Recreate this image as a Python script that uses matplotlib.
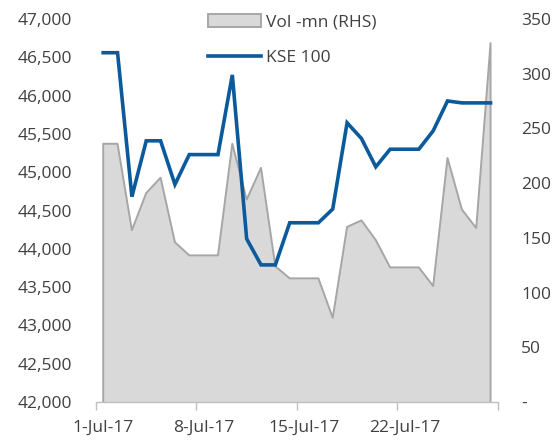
import matplotlib
matplotlib.use('Agg')
import matplotlib.pyplot as plt
from matplotlib.ticker import FuncFormatter, FixedLocator

# ── Data ─────────────────────────────────────────────────────────────────────
dates = ['1-Jul-17', '2-Jul-17', '3-Jul-17', '4-Jul-17', '5-Jul-17', '6-Jul-17',
         '7-Jul-17', '8-Jul-17', '9-Jul-17', '10-Jul-17', '11-Jul-17', '12-Jul-17',
         '13-Jul-17', '14-Jul-17', '15-Jul-17', '16-Jul-17', '17-Jul-17', '18-Jul-17',
         '19-Jul-17', '20-Jul-17', '21-Jul-17', '22-Jul-17', '23-Jul-17', '24-Jul-17',
         '25-Jul-17', '26-Jul-17', '27-Jul-17', '28-Jul-17']
kse100 = [46560, 46560, 44680, 45410, 45410, 44840, 45230, 45230, 45230, 46270,
          44130, 43790, 43790, 44340, 44340, 44340, 44520, 45645, 45440, 45070,
          45300, 45300, 45300, 45540, 45930, 45905, 45905, 45905]
volume = [236, 236, 157, 191, 205, 146, 134, 134, 134, 236,
          185, 214, 124, 113, 113, 113, 77, 160, 166, 148,
          123, 123, 123, 106, 223, 176, 159, 328]
label_idx = [0, 7, 14, 21]

TEXT = '#404040'
FS = 12.5
plt.rcParams['font.family'] = ['Open Sans', 'DejaVu Sans']
plt.rcParams['font.size'] = FS

x = list(range(len(dates)))

fig = plt.figure(figsize=(5.57, 4.41), dpi=100)
ax = fig.add_axes([0.1724, 0.0884, 0.7212, 0.8685])
ax2 = ax.twinx()

# volume area on the right axis
ax2.fill_between(x, 0, volume, facecolor='#D9D9D9', edgecolor='none', zorder=1)
ax2.plot([0] + x + [x[-1]], [0] + volume + [0], color='#A6A6A6', lw=1.4, zorder=2)
ax2.set_ylim(0, 350)
ax2.set_yticks(range(0, 351, 50))
ax2.yaxis.set_major_formatter(FuncFormatter(lambda v, p: '-' if v == 0 else f'{v:,.0f}'))

# KSE 100 line on the left axis, drawn over the area
ax.set_zorder(ax2.get_zorder() + 1)
ax.patch.set_visible(False)
ax.plot(x, kse100, color='#0B5A9B', lw=2.6, solid_joinstyle='miter', zorder=3)
ax.set_ylim(42000, 47000)
ax.set_yticks(range(42000, 47001, 500))
ax.yaxis.set_major_formatter(FuncFormatter(lambda v, p: f'{v:,.0f}'))

ax.set_xlim(-0.5, len(dates) - 0.5)
ax.xaxis.set_major_locator(FixedLocator([i - 0.5 for i in range(0, len(dates) + 1, 7)]))
ax.xaxis.set_major_formatter(FuncFormatter(lambda v, p: ''))
ax.xaxis.set_minor_locator(FixedLocator(label_idx))
ax.set_xticklabels([dates[i] for i in label_idx], minor=True)
ax.tick_params(axis='x', which='major', length=6, color='#BFBFBF', width=1)
ax.tick_params(axis='x', which='minor', length=0, pad=13, colors=TEXT)

for a in (ax, ax2):
    for s in ('top', 'left', 'right', 'bottom'):
        a.spines[s].set_visible(False)
ax.spines['bottom'].set_visible(True)
ax.spines['bottom'].set_color('#BFBFBF')
ax.spines['bottom'].set_linewidth(1)

ax.tick_params(axis='y', length=0, pad=17, colors=TEXT)
ax2.tick_params(axis='y', length=0, pad=17, colors=TEXT)
for t in ax2.get_yticklabels():
    t.set_horizontalalignment('left')

# legend
h1 = plt.Rectangle((0, 0), 1, 1, facecolor='#D9D9D9', edgecolor='#A6A6A6', lw=1.4)
h2, = ax.plot([], [], color='#0B5A9B', lw=2.6)
fig.legend([h1, h2], ['Vol -mn (RHS)', 'KSE 100'], loc='upper left',
           bbox_to_anchor=(0.345, 1.004), frameon=False, handlelength=3.05,
           handleheight=0.75, labelspacing=1.1, handletextpad=0.33,
           labelcolor=TEXT, fontsize=FS)

fig.savefig('out.png', dpi=100)
